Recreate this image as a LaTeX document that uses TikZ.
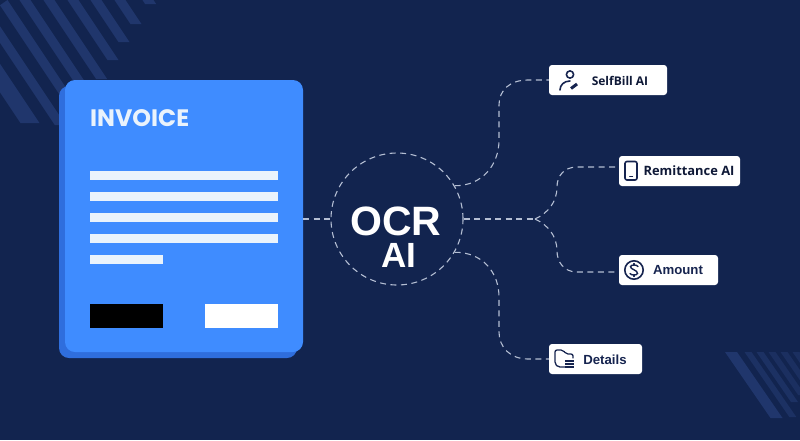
\documentclass[tikz,border=0pt]{standalone}
\usepackage{fontspec}
\setmainfont{Liberation Sans}
\newfontfamily\titlefont{Poppins}
\newfontfamily\chipfont{Open Sans}
\definecolor{bgnavy}{HTML}{12244F}
\definecolor{stripe}{HTML}{20366C}
\definecolor{cardfront}{HTML}{3F8CFF}
\definecolor{cardback}{HTML}{2F6EDD}
\definecolor{dashgrey}{HTML}{B4BED3}
\definecolor{rowline}{HTML}{EAF3FC}
\definecolor{chipink}{HTML}{16244F}
\tikzset{
  flow/.style={draw=dashgrey,line width=1.1pt,dash pattern=on 6pt off 4.5pt},
  card/.style={rounded corners=10pt,minimum width=238pt,minimum height=272pt,inner sep=0pt},
  chip/.style={fill=white,rounded corners=3pt,minimum height=30pt,inner sep=0pt},
  chiptext/.style={inner sep=0pt,font=\chipfont\bfseries\fontsize{12}{14}\selectfont,text=chipink!70!black},
  chiptextb/.style={inner sep=0pt,font=\bfseries\fontsize{13.2}{15}\selectfont,text=chipink},
  row/.style={fill=rowline,minimum height=9pt,minimum width=188pt,inner sep=0pt},
  icon/.style={draw=chipink,line width=1.6pt,line cap=round},
}
\begin{document}
\begin{tikzpicture}[x=1pt,y=-1pt]
  \useasboundingbox[fill=bgnavy] (0,0) rectangle (800,440);
  % stripes top left
  \foreach \xa/\ya/\wd in {148/4/5.5,120/24/5.5,96/42/5.5,73/60/5.5,49/79/5.5,25/100/5.5,2/115/5.5,-23/125/5.5,-52/123/9.5}
    \fill[stripe] ({max(\xa-\wd,0)},{max(0,(\wd-\xa)*1.5)}) -- ({\xa+\wd},0) -- ({\xa+\wd+\ya/1.5},\ya) -- ({\xa-\wd+\ya/1.5},\ya) -- cycle;
  % stripes bottom right
  \begin{scope}
    \clip (700,352) rectangle (800,440);
    \foreach \xa/\ya/\wd/\fade in {731/418/6/100,748/417/3.5/70,760/402/3.5/70,772/395/3.5/60,784/385/3.5/60,796/375/3.5/60}
      \fill[stripe!\fade!bgnavy] ({\xa-\wd},352) -- ({\xa+\wd},352) -- ({\xa+\wd+(\ya-352)/1.45},\ya) -- ({\xa-\wd+(\ya-352)/1.45},\ya) -- cycle;
  \end{scope}
  % invoice
  \node[card,fill=cardback] (invoiceback) at (178,222) {};
  \node[card,fill=cardfront] (invoice) at (184,216) {};
  \node[anchor=base west,inner sep=0pt,text=rowline,font=\titlefont\bfseries\fontsize{23.8}{28}\selectfont] (invoicetitle) at (90,126) {INVOICE};
  \foreach \y in {175.5,196.5,217.5,238.5}
    \node[row] at (184,\y) {};
  \node[row,minimum width=73pt] (rowlast) at (126.5,259.5) {};
  \node[fill=black,minimum width=73pt,minimum height=24pt,inner sep=0pt] (btnleft) at (126.5,316) {};
  \node[fill=white,minimum width=73pt,minimum height=24pt,inner sep=0pt] (btnright) at (241.5,316) {};
  % centre
  \node[circle,flow,minimum size=132pt,inner sep=0pt] (ocr) at (397,219) {};
  \node[anchor=base,inner sep=0pt,text=white,font=\bfseries\fontsize{41}{45}\selectfont] (ocrtext) at (396,235) {OCR};
  \node[anchor=base,inner sep=0pt,text=white,font=\bfseries\fontsize{35}{39}\selectfont] (aitext) at (399,267) {AI};
  % chips
  \node[chip,minimum width=118pt] (selfbill) at (608,80) {};
  \node[chip,minimum width=121pt] (remit) at (679.5,171) {};
  \node[chip,minimum width=99pt] (amount) at (668.5,270) {};
  \node[chip,minimum width=93pt] (details) at (595.5,359) {};
  \node[chiptext] (selfbilltext) at (620,80.5) {SelfBill AI};
  \node[chiptext,font=\chipfont\bfseries\fontsize{12.9}{14}\selectfont] (remittext) at (689,170.5) {Remittance AI};
  \node[chiptextb] (amounttext) at (678,270.5) {Amount};
  \node[chiptextb] (detailstext) at (605,359.5) {Details};
  % connectors
  \coordinate (fork) at (535,219);
  \draw[flow] (invoice.east |- ocr.west) -- (ocr.west);
  \draw[flow,line width=1.4pt] (ocr.east) -- (fork);
  \draw[flow] (ocr.30) .. controls (482,186) and (499,165) .. (499,140) -- (499,105) .. controls (499,90) and (510,80) .. (528,80) -- (selfbill.west);
  \draw[flow] (ocr.-30) .. controls (482,252) and (499,272) .. (499,297) -- (499,332) .. controls (499,347) and (510,359) .. (528,359) -- (details.west);
  \draw[flow] (fork) .. controls (548,213) and (557,202) .. (557,187) .. controls (557,176) and (564,167) .. (577,167) -- (remit.west |- 0,167);
  \draw[flow] (fork) .. controls (548,225) and (557,236) .. (557,251) .. controls (557,262) and (564,272) .. (577,272) -- (amount.west |- 0,272);
  % icons
  \draw[icon] (570,74.5) circle (3.6);
  \draw[icon] (560,90) .. controls (560,85) and (564,81) .. (570,81);
  \draw[icon,line width=3pt,line cap=butt] (571,88.5) -- (577,84);
  \draw[icon,rounded corners=2pt] (625,161.5) rectangle (637,180);
  \draw[icon,line width=1pt] (629.5,176.5) -- (632.5,176.5);
  \draw[icon] (634,270) circle (9.2);
  \draw[icon,line width=1.4pt] (638,266.5) .. controls (637,264.5) and (631,264.5) .. (630.5,266.5) .. controls (630,269.5) and (638,270) .. (637.5,273.5) .. controls (637,275.5) and (631,275.5) .. (630,273.5);
  \draw[icon,line width=1.2pt] (634,263.5) -- (634,265) (634,275) -- (634,276.5);
  \draw[icon,line width=1.3pt,rounded corners=2pt] (571,367) -- (558,367) -- (555,364) -- (555,350) -- (563,350) -- (566,354) -- (573,354) -- (573,358);
  \draw[icon,line width=1.2pt,line cap=butt] (565,361) -- (574,361) (565,364) -- (574,364) (565,367) -- (574,367);
\end{tikzpicture}
\end{document}
